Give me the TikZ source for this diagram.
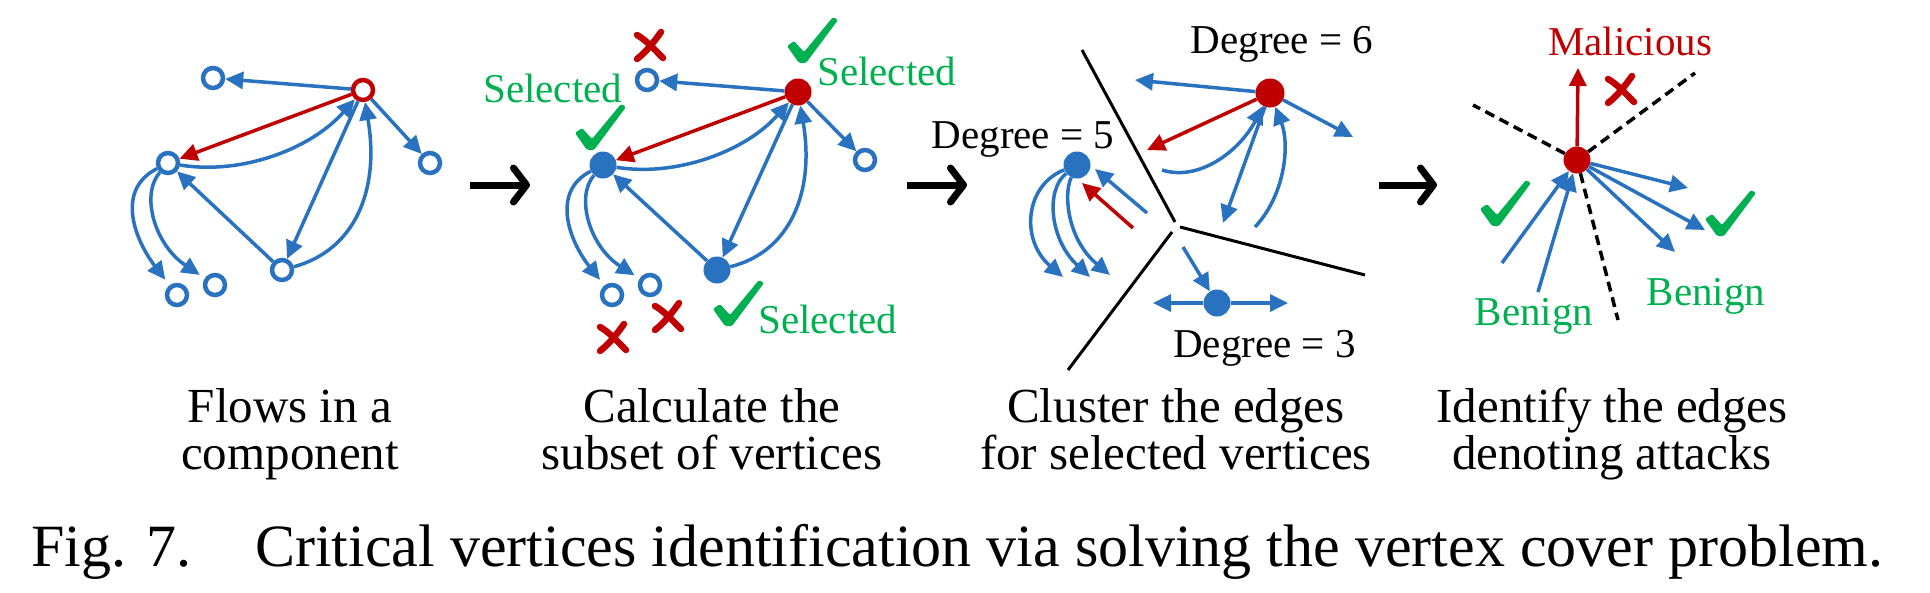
\documentclass[tikz,border=0pt]{standalone}
\usepackage{fontspec}
\setmainfont{Liberation Serif}
\usetikzlibrary{arrows.meta}
\definecolor{cblue}{RGB}{40,114,192}
\definecolor{cred}{RGB}{192,0,0}
\definecolor{cgreen}{RGB}{0,176,80}
\begin{document}
\begin{tikzpicture}[x=1pt,y=-1pt,
  be/.style={draw=cblue,line width=3.5pt,-{Triangle[length=18pt,width=17pt]}},
  rde/.style={draw=cred,line width=3.5pt,-{Triangle[length=18pt,width=17pt]}},
  ob/.style={circle,draw=cblue,line width=4.5pt,minimum size=20pt,inner sep=0pt,fill=white},
  orc/.style={circle,draw=cred,line width=4.5pt,minimum size=20pt,inner sep=0pt,fill=white},
  fb/.style={circle,fill=cblue,minimum size=27pt,inner sep=0pt},
  fr/.style={circle,fill=cred,minimum size=27pt,inner sep=0pt},
  blk/.style={draw=black,line width=3pt},
  dblk/.style={draw=black,line width=3.5pt,dash pattern=on 10pt off 6pt},
  proc/.style={draw=black,line width=7pt,-{Straight Barb[length=13pt,width=34pt,round]}},
  lbl/.style={font=\fontsize{41}{41}\selectfont,inner sep=0pt,anchor=base},
  subcap/.style={font=\fontsize{49}{49}\selectfont,inner sep=0pt,anchor=base},
  chk/.pic={\fill[cgreen,rounded corners=1.5pt] (-15,-14) -- (-8,-19) -- (2,-8) -- (31,-43) -- (36,-40) -- (4,3) -- (-3,3) -- cycle;},
  xmk/.pic={\draw[cred,line width=6.5pt,line cap=round] (-13,-11) .. controls (-4,-6) and (5,4) .. (13,12) (11,-14) .. controls (4,-4) and (-4,6) .. (-13,13);}
]
\useasboundingbox (0,0) rectangle (1930,592);

% ---------- Panel 1 ----------
\node[orc] (r1) at (363,90) {};
\node[ob] (a1) at (213,78) {};
\node[ob] (l1) at (168,163) {};
\node[ob] (t1) at (430,163) {};
\node[ob] (b1) at (282,270) {};
\node[ob] (p1) at (177,295) {};
\node[ob] (q1) at (215,285) {};
\draw[be] (r1) -- (a1);
\draw[rde] (r1) -- (l1);
\draw[be] (l1) .. controls (240,175) and (310,150) .. (r1);
\draw[be] (r1) -- (b1);
\draw[be] (b1) .. controls (355,250) and (380,190) .. (r1);
\draw[be] (b1) -- (l1);
\draw[be] (r1) -- (t1);
\draw[be,shorten >=7pt] (l1) .. controls (115,190) and (135,240) .. (p1);
\draw[be,shorten >=6pt] (l1) .. controls (140,195) and (155,245) .. (q1);

% ---------- Panel 2 ----------
\node[fr] (r2) at (798,92) {};
\node[ob] (a2) at (647,80) {};
\node[fb] (l2) at (603,165) {};
\node[ob] (t2) at (865,160) {};
\node[fb] (b2) at (717,270) {};
\node[ob] (p2) at (612,295) {};
\node[ob] (q2) at (650,285) {};
\draw[be] (r2) -- (a2);
\draw[rde] (r2) -- (l2);
\draw[be] (l2) .. controls (675,177) and (745,152) .. (r2);
\draw[be] (r2) -- (b2);
\draw[be] (b2) .. controls (790,252) and (815,192) .. (r2);
\draw[be] (b2) -- (l2);
\draw[be] (r2) -- (t2);
\draw[be,shorten >=7pt] (l2) .. controls (550,192) and (570,242) .. (p2);
\draw[be,shorten >=6pt] (l2) .. controls (575,197) and (590,247) .. (q2);
\node[lbl,anchor=base west,text=cgreen] (s2l) at (483,102) {Selected};
\node[lbl,anchor=base west,text=cgreen] (s2r) at (817,85) {Selected};
\node[lbl,anchor=base west,text=cgreen] (s2b) at (758,333) {Selected};
\pic at (802,60) {chk};
\pic at (590,147) {chk};
\pic at (728,323) {chk};
\pic at (650,46) {xmk};
\pic at (613,338) {xmk};
\pic at (668,317) {xmk};

% ---------- Panel 3 ----------
\coordinate (k1) at (1082,50);
\coordinate (k2) at (1175,222);
\coordinate (k3) at (1180,227);
\coordinate (k4) at (1365,275);
\coordinate (k5) at (1172,232);
\coordinate (k6) at (1068,370);
\draw[blk] (k1) -- (k2);
\draw[blk] (k3) -- (k4);
\draw[blk] (k5) -- (k6);

\node[fr,minimum size=29pt] (r3) at (1270,93) {};
\coordinate (c3a) at (1135,80);
\coordinate (c3b) at (1147,150);
\coordinate (c3c) at (1162,170);
\coordinate (c3d) at (1223,223);
\coordinate (c3e) at (1255,227);
\coordinate (c3f) at (1353,137);
\draw[be] (r3) -- (c3a);
\draw[rde] (r3) -- (c3b);
\draw[be] (c3c) .. controls (1200,182) and (1240,150) .. (r3);
\draw[be] (r3) -- (c3d);
\draw[be] (c3e) .. controls (1285,195) and (1290,145) .. (r3);
\draw[be] (r3) -- (c3f);

\node[fb] (d5) at (1077,165) {};
\coordinate (u1) at (1063,277);
\coordinate (u2) at (1090,277);
\coordinate (u3) at (1110,275);
\coordinate (u4) at (1147,213);
\coordinate (u5) at (1095,169);
\coordinate (u6) at (1133,228);
\coordinate (u7) at (1082,183);
\draw[be] (d5) .. controls (1025,185) and (1020,240) .. (u1);
\draw[be] (d5) .. controls (1045,190) and (1050,240) .. (u2);
\draw[be] (d5) .. controls (1063,195) and (1068,240) .. (u3);
\draw[be] (u4) -- (u5);
\draw[rde] (u6) -- (u7);

\node[fb] (d3) at (1217,303) {};
\coordinate (w1) at (1183,247);
\coordinate (w2) at (1153,303);
\coordinate (w3) at (1288,303);
\draw[be] (w1) -- (d3);
\draw[be] (d3) -- (w2);
\draw[be] (d3) -- (w3);

\node[lbl] (g6) at (1282,53) {Degree = 6};
\node[lbl] (g5) at (1023,148) {Degree = 5};
\node[lbl,anchor=base west] (g3) at (1173,357) {Degree = 3};

% ---------- Panel 4 ----------
\node[fr] (r4) at (1577,160) {};
\coordinate (m4) at (1578,68);
\coordinate (e1) at (1473,105);
\coordinate (e2) at (1695,73);
\coordinate (e3) at (1618,320);
\draw[dblk] (r4) -- (e1);
\draw[dblk] (r4) -- (e2);
\draw[dblk] (r4) -- (e3);
\draw[rde] (r4) -- (m4);
\coordinate (i1) at (1502,263);
\coordinate (i2) at (1538,292);
\coordinate (o1) at (1688,188);
\coordinate (o2) at (1705,230);
\coordinate (o3) at (1675,252);
\draw[be] (i1) -- (r4);
\draw[be] (i2) -- (r4);
\draw[be] (r4) -- (o1);
\draw[be] (r4) -- (o2);
\draw[be] (r4) -- (o3);
\node[lbl,text=cred] (mal) at (1630,55) {Malicious};
\node[lbl,text=cgreen] (bn1) at (1534,325) {Benign};
\node[lbl,text=cgreen] (bn2) at (1706,305) {Benign};
\pic at (1495,223) {chk};
\pic at (1720,233) {chk};
\pic at (1621,90) {xmk};

% ---------- process arrows ----------
\coordinate (pa1) at (470,185);
\coordinate (pb1) at (530,185);
\coordinate (pa2) at (907,185);
\coordinate (pb2) at (967,185);
\coordinate (pa3) at (1379,185);
\coordinate (pb3) at (1437,185);
\draw[proc] (pa1) -- (pb1);
\draw[proc] (pa2) -- (pb2);
\draw[proc] (pa3) -- (pb3);

% ---------- captions ----------
\node[subcap] (c1a) at (290,422) {Flows in a};
\node[subcap] (c1b) at (290,469) {component};
\node[subcap] (c2a) at (712,422) {Calculate the};
\node[subcap] (c2b) at (712,469) {subset of vertices};
\node[subcap] (c3x) at (1176,422) {Cluster the edges};
\node[subcap] (c3y) at (1176,469) {for selected vertices};
\node[subcap] (c4a) at (1612,422) {Identify the edges};
\node[subcap] (c4b) at (1612,469) {denoting attacks};
\node[font=\fontsize{60}{60}\selectfont,inner sep=0pt,anchor=base west] (fig) at (31,566)
  {Fig. 7.\hspace{64pt}Critical vertices identification via solving the vertex cover problem.};
\end{tikzpicture}
\end{document}
